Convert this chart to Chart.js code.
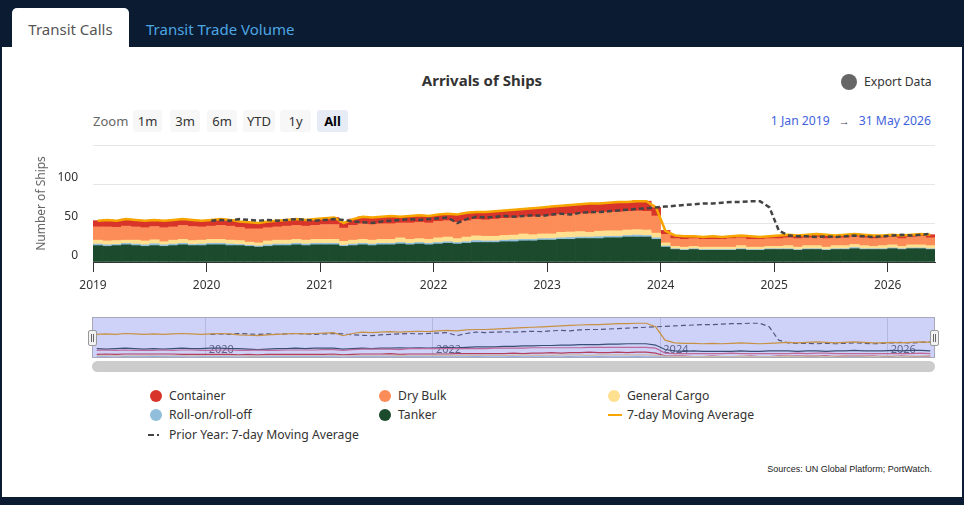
<!DOCTYPE html>
<html>
<head>
<meta charset="utf-8">
<script src="https://cdn.jsdelivr.net/npm/chart.js@4.4.1/dist/chart.umd.min.js"></script>
<style>
  body { margin: 0; width: 964px; height: 505px; background: #0b1b31; position: relative; overflow: hidden;
         font-family: "Noto Sans", "Open Sans", sans-serif; color: #333; }
  .abs { position: absolute; }
  .tab { left: 12px; top: 8px; width: 117px; height: 40px; background: #fff; border-radius: 5px 5px 0 0;
         font-size: 15px; color: #555; text-align: center; line-height: 42px; }
  .tab2 { left: 146px; top: 8px; line-height: 42px; font-size: 15px; color: #4ba6e3; }
  .panel { left: 2px; top: 47px; width: 960px; height: 450px; background: #fff; }
  .title { left: 0; width: 964px; top: 70px; line-height: 20px; text-align: center; font-weight: bold; font-size: 15px; color: #333; }
  .dot { border-radius: 50%; }
  .btn { top: 110px; height: 22px; line-height: 22px; font-size: 13px; background: #f7f7f7; border-radius: 3px; text-align: center; color: #333; }
  .lg { font-size: 12.2px; line-height: 18px; color: #333; white-space: nowrap; }
  #main { left: 0; top: 140px; width: 964px; height: 160px; }
  #navWrap { left: 92px; top: 317px; width: 843px; height: 41px; }
  #mask { left: 92px; top: 317px; width: 841px; height: 39px; background: rgba(80, 95, 235, 0.28); border: 1px solid #a8a8b8; }
  .handle { top: 330px; width: 7px; height: 14px; background: #f2f2f2; border: 1px solid #999; border-radius: 2px; }
  .handle::before, .handle::after { content: ""; position: absolute; top: 3px; width: 1px; height: 8px; background: #666; }
  .handle::before { left: 2px; } .handle::after { left: 4px; }
</style>
</head>
<body>
<div class="abs tab">Transit Calls</div>
<div class="abs tab2">Transit Trade Volume</div>
<div class="abs panel"></div>

<div class="abs title">Arrivals of Ships</div>
<div class="abs dot" style="left:841px;top:74px;width:16px;height:16px;background:#666"></div>
<div class="abs" style="left:864px;top:73px;line-height:18px;font-size:12.2px;color:#333">Export Data</div>

<div class="abs" style="left:93px;top:110px;line-height:22px;font-size:13px;color:#666">Zoom</div>
<div class="abs btn" style="left:133px;width:29px">1m</div>
<div class="abs btn" style="left:170px;width:30px">3m</div>
<div class="abs btn" style="left:207px;width:30px">6m</div>
<div class="abs btn" style="left:243px;width:32px">YTD</div>
<div class="abs btn" style="left:280px;width:31px">1y</div>
<div class="abs btn" style="left:317px;width:31px;background:#e6ebf5;font-weight:bold;color:#000">All</div>
<div class="abs" style="right:33px;top:110px;line-height:22px;font-size:12.2px;color:#4262dd;white-space:nowrap">1 Jan 2019<span style="margin:0 9px;font-size:11px;color:#445">&rarr;</span>31 May 2026</div>

<div id="main" class="abs"><canvas id="chart"></canvas></div>

<div id="navWrap" class="abs"><canvas id="nav"></canvas></div>
<div id="mask" class="abs"></div>
<div class="abs handle" style="left:88px"></div>
<div class="abs handle" style="left:930px"></div>
<div class="abs" style="left:92px;top:361px;width:843px;height:11px;background:#cccccc;border-radius:6px"></div>

<div id="legend"></div>
<div class="abs" style="right:32px;top:464px;font-family:'Liberation Sans',Arial,sans-serif;font-size:9px;color:#222">Sources: UN Global Platform; PortWatch.</div>

<script>
// monthly values, Jan 2019 .. May 2026
const yearLabels = ["2019", "2020", "2021", "2022", "2023", "2024", "2025", "2026"];

const tanker = [
  21,20,21,22,21,20,21,20,21,22,21,21,
  22,22,21,21,20,19,20,21,21,22,21,22,
  22,22,20,21,22,21,22,22,23,22,23,22,
  23,24,23,24,25,25,25,26,26,27,27,28,
  28,29,29,30,30,30,31,31,32,32,32,29,
  19,16,15,16,15,15,15,15,16,15,15,16,
  16,16,15,16,16,15,16,16,17,16,16,16,
  17,16,17,17,16
];
const roro = [
  2,2,1.5,2,2,2,2.5,2,2,2,1.5,2,
  2,2,2,1.5,1.5,1.5,2,2,2,2,2,2,
  2,2,1.5,2,2,2,2,2,2,2,2,2,
  2,2,2,2,2.5,2,2,2,2.5,2,2,2,
  2,2,2.5,2,2,2.5,2,2,2,2.5,2,2,
  1.5,1,1,1,1,1,1,1,1,1,1,1,
  1,1,1,1,1,1,1,1,1.5,1,1,1,
  1,1,1,1,1
];
const generalCargo = [
  5,5,5,4,5,5,5,4,5,5,5,5,
  5,5,5,5,4,4,5,5,5,5,5,5,
  5,5,5,5,5,5,5,5,6,5,5,5,
  6,6,5,6,6,6,6,6,6,7,6,6,
  6,7,7,7,6,7,7,7,7,7,7,6,
  4,3,3,3,3,3,3,3,4,3,3,3,
  3,4,3,4,4,3,4,4,4,4,3,4,
  4,3,4,4,4
];
const dryBulk = [
  17,18,17,18,17,17,17,18,17,18,18,17,
  17,18,18,17,17,18,17,17,18,18,18,18,
  19,19,17,19,20,20,20,20,19,21,21,21,
  21,21,21,21,21,21,22,22,22,22,23,23,
  23,23,23,23,24,24,24,24,24,24,24,22,
  11,10,10,10,10,10,10,11,10,10,10,10,
  10,10,11,10,11,11,10,10,10,10,10,10,
  10,10,10,11,10
];
const container = [
  8,9,8,9,9,9,9,9,9,8,8,8,
  8,8,8,7,8,7,8,8,8,8,8,8,
  8,9,7,8,9,9,9,10,8,9,9,9,
  9,9,10,10,10,10,10,10,11,10,11,11,
  12,11,12,12,13,12,12,13,12,13,13,11,
  5,4,4,3,3,4,3,3,3,4,3,3,
  4,4,4,4,4,5,3,4,4,4,4,3,
  3,4,3,3,4
];
const movingAvg = [
  53,54,53,55,54,53,54,53,54,55,54,53,
  54,55,54,52,51,50,52,53,54,55,54,55,
  56,57,50,55,58,57,58,59,58,59,60,59,
  61,62,61,63,64,64,65,66,67,68,69,70,
  71,72,73,74,75,75,76,77,77,78,78,70,
  40,34,33,33,32,33,32,33,34,33,32,33,
  34,35,34,35,36,35,34,35,36,35,34,34,
  35,34,35,36,35
];
const priorYear = [
  null,null,null,null,null,null,null,null,null,null,null,null,
  53,54,53,55,54,53,54,53,54,55,54,53,
  54,55,54,52,51,50,52,53,54,55,54,55,
  56,57,50,55,58,57,58,59,58,59,60,59,
  61,62,61,63,64,64,65,66,67,68,69,70,
  71,72,73,74,75,75,76,77,77,78,78,70,
  40,34,33,33,32,33,32,33,34,33,32,33,
  34,35,34,35,36
];

const colors = {
  container: "#d8342a", dryBulk: "#fc8d59", generalCargo: "#fee090",
  roro: "#91bfdb", tanker: "#1b4a2d", movingAvg: "#f7a600", priorYear: "#444444"
};

Chart.defaults.font.family = '"Noto Sans", "Open Sans", sans-serif';
const nMonths = movingAvg.length;
const pts = arr => arr.map((v, i) => ({ x: i + 0.5, y: v }));

function bar(label, data, color) {
  return { type: "bar", label, data: pts(data), backgroundColor: color, borderWidth: 0,
           barPercentage: 1, categoryPercentage: 1, stack: "ships", order: 2 };
}

new Chart(document.getElementById("chart"), {
  data: {
    datasets: [
      bar("Tanker", tanker, colors.tanker),
      bar("Roll-on/roll-off", roro, colors.roro),
      bar("General Cargo", generalCargo, colors.generalCargo),
      bar("Dry Bulk", dryBulk, colors.dryBulk),
      bar("Container", container, colors.container),
      { type: "line", label: "7-day Moving Average", data: pts(movingAvg), borderColor: colors.movingAvg,
        borderWidth: 2.5, pointRadius: 0, stack: "ma", order: 1 },
      { type: "line", label: "Prior Year: 7-day Moving Average", data: pts(priorYear), borderColor: colors.priorYear,
        borderWidth: 2.5, borderDash: [5, 3], pointRadius: 0, spanGaps: false, stack: "py", order: 0 }
    ]
  },
  options: {
    responsive: true, maintainAspectRatio: false, animation: false,
    layout: { padding: { top: 5, right: 29, left: 0, bottom: 0 } },
    plugins: { legend: { display: false }, tooltip: { enabled: false } },
    scales: {
      x: {
        type: "linear", min: 0, max: nMonths, stacked: true, offset: false,
        afterBuildTicks: s => { s.ticks = yearLabels.map((_, i) => ({ value: i * 12 })); },
        afterFit: s => { s.height = 38; s.paddingLeft = 0; s.paddingRight = 0; },
        ticks: { callback: v => yearLabels[v / 12], color: "#333", font: { size: 12 }, padding: 6, maxRotation: 0, autoSkip: false },
        grid: { offset: false, drawOnChartArea: false, tickLength: 10, color: "#333" },
        border: { color: "#333" }
      },
      y: {
        stacked: true, min: 0, max: 150,
        afterFit: s => { s.width = 93; s.paddingTop = 0; s.paddingBottom = 0; },
        ticks: { stepSize: 50, callback: v => (v === 150 ? "" : v), color: "#333", font: { size: 12 }, padding: 15, labelOffset: -6 },
        grid: { color: "#e6e6e6", drawTicks: false },
        border: { display: false },
        title: { display: true, text: "Number of Ships", color: "#666", font: { size: 12 }, padding: { top: 34 } }
      }
    }
  }
});

// navigator: same series as thin lines
const navYears = [1, 3, 5, 7];
const navLabels = {
  id: "navLabels",
  beforeDatasetsDraw(chart) {
    const { ctx, scales: { x }, chartArea } = chart;
    ctx.save();
    ctx.font = '11px "Noto Sans", sans-serif';
    ctx.fillStyle = "#666";
    ctx.textBaseline = "middle";
    navYears.forEach(i => ctx.fillText(yearLabels[i], x.getPixelForValue(i * 12) + 3, chartArea.bottom - 8));
    ctx.restore();
  }
};
function navLine(data, color, dash) {
  return { data: pts(data), borderColor: color, borderWidth: 1.2, borderDash: dash || [], pointRadius: 0 };
}
new Chart(document.getElementById("nav"), {
  type: "line",
  data: {
    datasets: [
      navLine(roro, colors.roro),
      navLine(generalCargo, colors.generalCargo),
      navLine(container, colors.container),
      navLine(dryBulk, "#e8707a"),
      navLine(tanker, "#334a4a"),
      navLine(movingAvg, colors.movingAvg),
      navLine(priorYear, "#555", [5, 3])
    ]
  },
  options: {
    responsive: true, maintainAspectRatio: false, animation: false,
    layout: { padding: 0 },
    plugins: { legend: { display: false }, tooltip: { enabled: false } },
    scales: {
      x: {
        type: "linear", min: 0, max: nMonths,
        afterBuildTicks: s => { s.ticks = navYears.map(i => ({ value: i * 12 })); },
        afterFit: s => { s.height = 0; s.paddingLeft = 0; s.paddingRight = 0; },
        ticks: { display: false }, grid: { color: "#dcdcdc", drawTicks: false }, border: { display: false }
      },
      y: { display: false, min: 0, max: 92 }
    }
  },
  plugins: [navLabels]
});

// legend (html, three columns)
const legendItems = [
  ["Container", "dot", colors.container], ["Dry Bulk", "dot", colors.dryBulk], ["General Cargo", "dot", colors.generalCargo],
  ["Roll-on/roll-off", "dot", colors.roro], ["Tanker", "dot", colors.tanker], ["7-day Moving Average", "line", colors.movingAvg],
  ["Prior Year: 7-day Moving Average", "dash", colors.priorYear]
];
const colX = [169, 398, 627], rowY = [396, 415, 435];
const lg = document.getElementById("legend");
legendItems.forEach(([name, kind, color], i) => {
  const x = colX[i % 3], y = rowY[Math.floor(i / 3)];
  let sym;
  if (kind === "dot") sym = `<div class="abs dot" style="left:${x - 19}px;top:${y - 6}px;width:12px;height:12px;background:${color}"></div>`;
  else if (kind === "line") sym = `<div class="abs" style="left:${x - 19}px;top:${y - 1}px;width:14px;height:2px;background:${color}"></div>`;
  else sym = `<div class="abs" style="left:${x - 21}px;top:${y - 1}px;width:6px;height:2px;background:${color}"></div>` +
             `<div class="abs" style="left:${x - 12}px;top:${y - 1}px;width:2px;height:2px;background:${color}"></div>`;
  lg.insertAdjacentHTML("beforeend", sym + `<div class="abs lg" style="left:${x}px;top:${y - 9}px">${name}</div>`);
});
</script>
</body>
</html>
